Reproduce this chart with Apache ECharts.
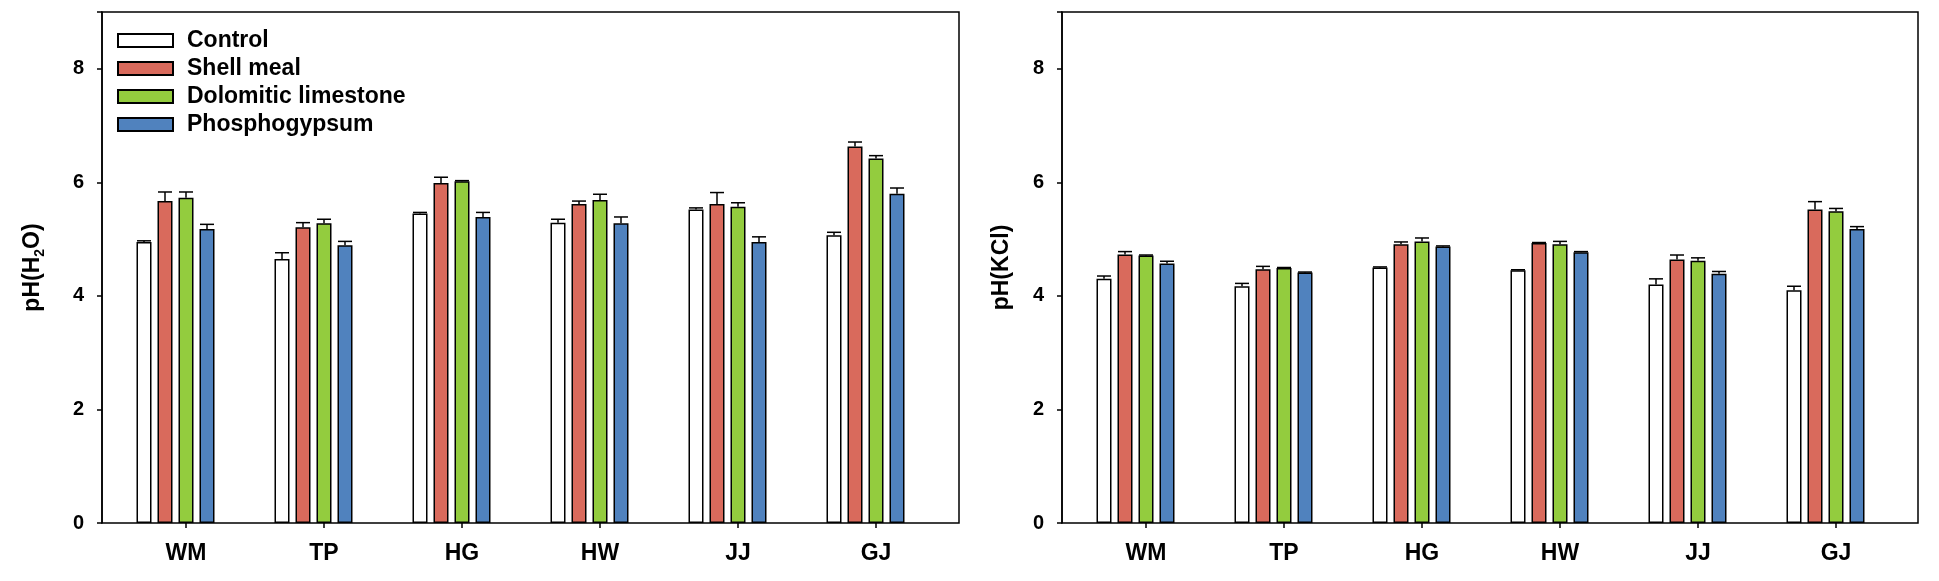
<!DOCTYPE html>
<html>
<head>
<meta charset="utf-8">
<script src="https://cdn.jsdelivr.net/npm/echarts@6/dist/echarts.min.js"></script>
<style>
html,body{margin:0;padding:0;background:#fff;}
#c{width:1939px;height:581px;}
</style>
</head>
<body>
<div id="c"></div>
<script>
const categories = ['WM', 'TP', 'HG', 'HW', 'JJ', 'GJ'];
const treatments = ['Control', 'Shell meal', 'Dolomitic limestone', 'Phosphogypsum'];
const colors = ['#FFFFFF', '#D96A5C', '#93CC3E', '#5082BE'];
const yTicks = [0, 2, 4, 6, 8];

// pH(H2O) means
const h2oControl = [4.95, 4.65, 5.45, 5.29, 5.52, 5.07];
const h2oShell   = [5.67, 5.21, 5.99, 5.62, 5.62, 6.63];
const h2oDolo    = [5.73, 5.28, 6.02, 5.69, 5.57, 6.42];
const h2oPhos    = [5.18, 4.89, 5.39, 5.28, 4.95, 5.80];
// pH(H2O) standard errors
const h2oControlErr = [0.02, 0.11, 0.02, 0.06, 0.03, 0.05];
const h2oShellErr   = [0.16, 0.08, 0.10, 0.05, 0.20, 0.08];
const h2oDoloErr    = [0.10, 0.07, 0.01, 0.10, 0.07, 0.05];
const h2oPhosErr    = [0.08, 0.07, 0.08, 0.11, 0.09, 0.10];

// pH(KCl) means
const kclControl = [4.30, 4.17, 4.50, 4.45, 4.20, 4.10];
const kclShell   = [4.73, 4.47, 4.91, 4.93, 4.64, 5.52];
const kclDolo    = [4.71, 4.49, 4.96, 4.91, 4.62, 5.49];
const kclPhos    = [4.57, 4.41, 4.87, 4.77, 4.39, 5.18];
// pH(KCl) standard errors
const kclControlErr = [0.05, 0.05, 0.01, 0.01, 0.10, 0.07];
const kclShellErr   = [0.05, 0.05, 0.04, 0.01, 0.08, 0.14];
const kclDoloErr    = [0.01, 0.01, 0.06, 0.05, 0.05, 0.05];
const kclPhosErr    = [0.04, 0.01, 0.01, 0.01, 0.04, 0.04];

const FONT = '"Liberation Sans", Arial, sans-serif';
const BAR_W = 15;
const GAP = 0.4;
const PITCH = BAR_W * (1 + GAP);
const CAP = 14;
const Y_MAX = 9;

const panels = [
  { means: [h2oControl, h2oShell, h2oDolo, h2oPhos],
    errs: [h2oControlErr, h2oShellErr, h2oDoloErr, h2oPhosErr],
    frameLeft: 102, frameWidth: 857, dataLeft: 117, dataWidth: 828,
    name: 'pH(H{sub|2}O)', nameGap: 55 },
  { means: [kclControl, kclShell, kclDolo, kclPhos],
    errs: [kclControlErr, kclShellErr, kclDoloErr, kclPhosErr],
    frameLeft: 1062, frameWidth: 856, dataLeft: 1077, dataWidth: 828,
    name: 'pH(KCl)', nameGap: 46 }
];

const TOP = 12, HEIGHT = 511;
const grid = [], xAxis = [], yAxis = [], series = [];

panels.forEach((p, pi) => {
  const fg = grid.length;
  grid.push({ left: p.frameLeft, top: TOP, width: p.frameWidth, height: HEIGHT,
    show: true, borderColor: '#000', borderWidth: 1.5, backgroundColor: 'transparent' });
  grid.push({ left: p.dataLeft, top: TOP, width: p.dataWidth, height: HEIGHT });
  // frame axes
  xAxis.push({ gridIndex: fg, type: 'value', min: 0, max: 1, show: false });
  yAxis.push({ gridIndex: fg, type: 'value', min: 0, max: Y_MAX, interval: 2,
    name: p.name, nameLocation: 'middle', nameGap: p.nameGap,
    nameTextStyle: { fontFamily: FONT, fontWeight: 'bold', fontSize: 23, color: '#000',
      lineHeight: 28,
      rich: { sub: { fontFamily: FONT, fontWeight: 'bold', fontSize: 14, color: '#000',
        verticalAlign: 'bottom', lineHeight: 14 } } },
    axisLine: { show: true, lineStyle: { color: '#000', width: 1.5 } },
    axisTick: { show: true, inside: false, length: 5, lineStyle: { color: '#000', width: 1.5 } },
    axisLabel: { fontFamily: FONT, fontWeight: 'bold', fontSize: 20, color: '#000', margin: 18,
      formatter: v => (yTicks.indexOf(v) >= 0 ? String(v) : '') },
    splitLine: { show: false } });
  // data axes
  const dx = xAxis.length, dy = yAxis.length;
  xAxis.push({ gridIndex: fg + 1, type: 'category', data: categories,
    axisLine: { show: false },
    axisTick: { show: true, alignWithLabel: true, length: 5, lineStyle: { color: '#000', width: 1.5 } },
    axisLabel: { fontFamily: FONT, fontWeight: 'bold', fontSize: 23, color: '#000', margin: 19 },
    splitLine: { show: false } });
  yAxis.push({ gridIndex: fg + 1, type: 'value', min: 0, max: Y_MAX, show: false, splitLine: { show: false } });

  p.means.forEach((m, ti) => {
    series.push({ type: 'bar', name: treatments[ti], xAxisIndex: dx, yAxisIndex: dy,
      data: m, barWidth: BAR_W, barGap: (GAP * 100) + '%',
      itemStyle: { color: colors[ti], borderColor: '#000', borderWidth: 1.5 },
      emphasis: { disabled: true }, z: 2 });
  });
  // spacer series (keeps groups aligned the way the original figure places them)
  series.push({ type: 'bar', name: '_spacer', xAxisIndex: dx, yAxisIndex: dy,
    data: categories.map(() => '-'), barWidth: BAR_W, barGap: (GAP * 100) + '%', silent: true });

  const errData = [];
  p.means.forEach((m, ti) => m.forEach((v, ci) => errData.push([ci, v, p.errs[ti][ci], ti])));
  series.push({ type: 'custom', xAxisIndex: dx, yAxisIndex: dy, data: errData, z: 5, silent: true,
    encode: { x: 0, y: 1 },
    renderItem: (params, api) => {
      const ci = api.value(0), v = api.value(1), e = api.value(2), t = api.value(3);
      const base = api.coord([ci, v]);
      const top = api.coord([ci, v + e]);
      const x = base[0] + (t - 2) * PITCH;
      const st = { stroke: '#000', lineWidth: 1.5 };
      return { type: 'group', children: [
        { type: 'line', shape: { x1: x, y1: base[1], x2: x, y2: top[1] }, style: st },
        { type: 'line', shape: { x1: x - CAP / 2, y1: top[1], x2: x + CAP / 2, y2: top[1] }, style: st }
      ] };
    } });
});

const chart = echarts.init(document.getElementById('c'), null, { renderer: 'canvas' });
chart.setOption({
  backgroundColor: '#fff',
  animation: false,
  legend: { data: treatments, orient: 'vertical', left: 117, top: 29, padding: 0,
    itemWidth: 55, itemHeight: 13, itemGap: 5, icon: 'rect', selectedMode: false,
    textStyle: { fontFamily: FONT, fontWeight: 'bold', fontSize: 23, color: '#000', lineHeight: 23,
      padding: [0, 0, 0, 9] } },
  grid, xAxis, yAxis, series
});
</script>
</body>
</html>
